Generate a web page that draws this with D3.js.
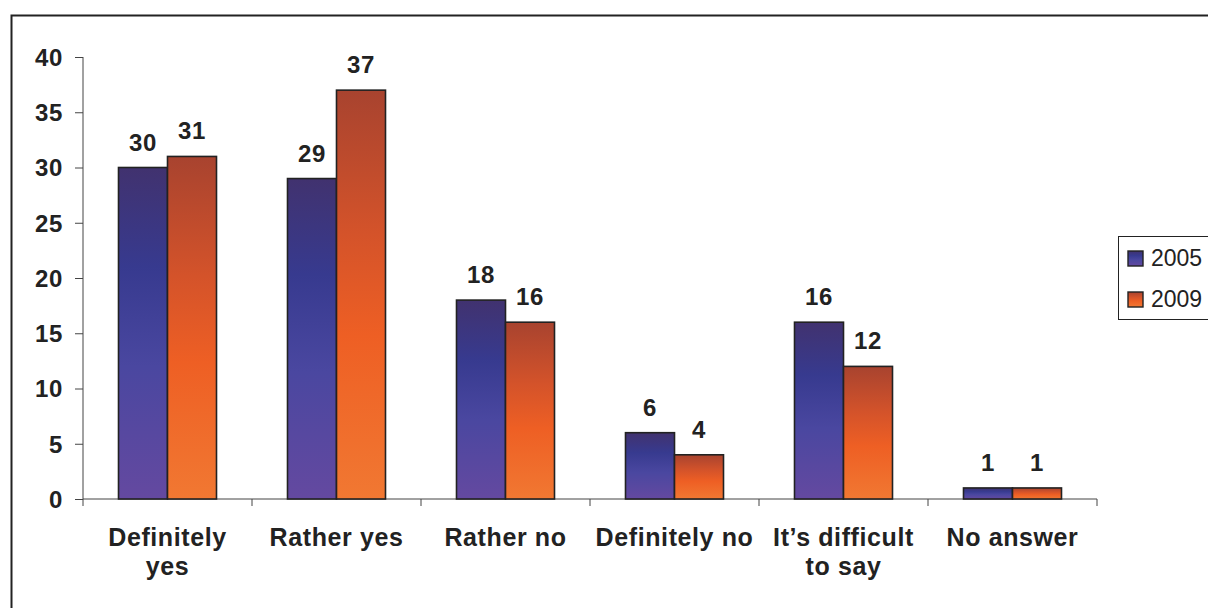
<!DOCTYPE html>
<html><head><meta charset="utf-8">
<script src="https://cdn.jsdelivr.net/npm/d3@7"></script>
<style>body{margin:0;background:#fff;} text{font-family:"Liberation Sans",Arial,sans-serif;fill:#222;}</style>
</head><body>
<svg id="c" width="1208" height="608"></svg>
<script>
const categories = [["Definitely","yes"],["Rather yes"],["Rather no"],["Definitely no"],["It\u2019s difficult","to say"],["No answer"]];
const series = ["2005","2009"];
const values2005 = [30,29,18,6,16,1];
const values2009 = [31,37,16,4,12,1];
const yTicks = [0,5,10,15,20,25,30,35,40];

const svg = d3.select("#c");
const defs = svg.append("defs");
const g1 = defs.append("linearGradient").attr("id","gp").attr("x1",0).attr("y1",0).attr("x2",0).attr("y2",1);
[[0,"#41326f"],[0.3,"#373a8f"],[0.6,"#4a47a0"],[1,"#6449a0"]].forEach(s=>g1.append("stop").attr("offset",s[0]).attr("stop-color",s[1]));
const g2 = defs.append("linearGradient").attr("id","go").attr("x1",0).attr("y1",0).attr("x2",0).attr("y2",1);
[[0,"#a8432f"],[0.35,"#d4532a"],[0.6,"#ee5f24"],[1,"#f17832"]].forEach(s=>g2.append("stop").attr("offset",s[0]).attr("stop-color",s[1]));
const fills = ["url(#gp)","url(#go)"];

// outer border
svg.append("rect").attr("x",11.5).attr("y",15.5).attr("width",1300).attr("height",700).attr("fill","none").attr("stroke","#222").attr("stroke-width",2);

const x0 = d3.scaleBand().domain(d3.range(categories.length)).range([83,1097]).paddingInner(0).paddingOuter(0);
const x1 = d3.scaleBand().domain(series).range([0,98]);
const y = d3.scaleLinear().domain([0,40]).range([499,57]);

const bold = sel => sel.style("font-size","24px").style("font-weight","bold").style("letter-spacing","0.6px");

// y axis
const ya = svg.append("g").attr("transform","translate(83,0)")
  .call(d3.axisLeft(y).tickValues(yTicks).tickSize(8).tickPadding(12));
ya.select(".domain").attr("stroke","#444").attr("d","M0,"+y(0)+"V"+y(40));
ya.selectAll(".tick line").attr("stroke","#444");
ya.selectAll("text").call(bold).attr("fill","#222").attr("dy","0.35em");

// x axis
const xa = svg.append("g").attr("transform","translate(0,499)");
xa.append("line").attr("x1",83).attr("x2",1097).attr("y1",0).attr("y2",0).attr("stroke","#444");
d3.range(categories.length+1).forEach(i=>{
  const xx = i<categories.length ? x0(i) : x0(categories.length-1)+x0.bandwidth();
  xa.append("line").attr("x1",xx).attr("x2",xx).attr("y1",0).attr("y2",7).attr("stroke","#444");
});

const data = [values2005, values2009];
categories.forEach((cat,i)=>{
  const cx = x0(i)+x0.bandwidth()/2;
  const gx = cx-49;
  series.forEach((s,j)=>{
    const v = data[j][i];
    svg.append("rect").attr("x",gx+x1(s)).attr("y",y(v)).attr("width",x1.bandwidth()).attr("height",y(0)-y(v))
      .attr("fill",fills[j]).attr("stroke","#222").attr("stroke-width",1.6);
    svg.append("text").attr("x",gx+x1(s)+x1.bandwidth()/2).attr("y",y(v)-17).attr("text-anchor","middle")
      .call(bold).text(v);
  });
  cat.forEach((line,k)=>{
    svg.append("text").attr("x",cx).attr("y",546+k*29).attr("text-anchor","middle")
      .call(bold).style("font-size","25px").text(line);
  });
});

// legend
svg.append("rect").attr("x",1118.5).attr("y",236.5).attr("width",120).attr("height",83).attr("fill","#fff").attr("stroke","#222").attr("stroke-width",1);
series.forEach((s,j)=>{
  const ly = 251 + j*41;
  svg.append("rect").attr("x",1128).attr("y",ly).attr("width",15).attr("height",15).attr("fill",fills[j]).attr("stroke","#222").attr("stroke-width",1.4);
  svg.append("text").attr("x",1151).attr("y",ly+15).style("font-size","23px").text(s);
});
</script>
</body></html>
